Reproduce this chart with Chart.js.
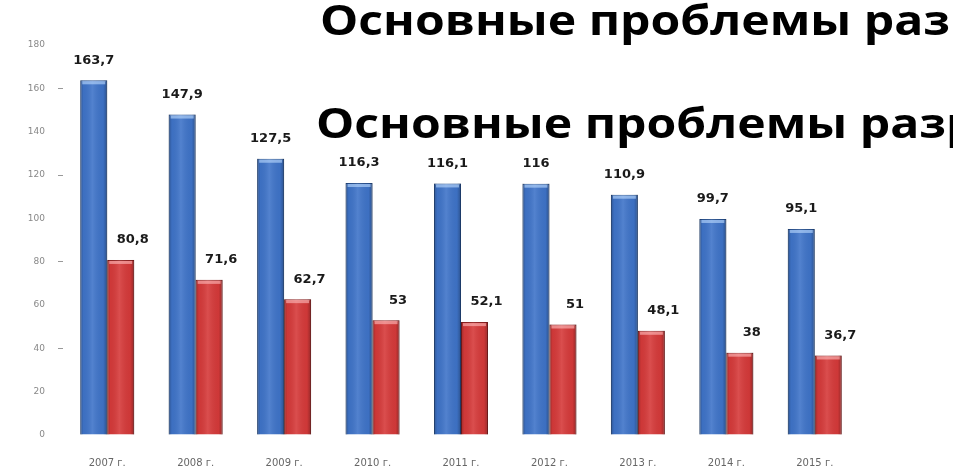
<!DOCTYPE html>
<html>
<head>
<meta charset="utf-8">
<script src="https://cdn.jsdelivr.net/npm/chart.js@4"></script>
<style>
  html, body { margin: 0; padding: 0; background: #fff; }
  #wrap { width: 953px; height: 471px; position: relative; }
</style>
</head>
<body>
<div id="wrap"><canvas id="chart" width="953" height="471"></canvas></div>
<script>
// --- data ---
const years = ['2007 г.', '2008 г.', '2009 г.', '2010 г.', '2011 г.', '2012 г.', '2013 г.', '2014 г.', '2015 г.'];
const blueValues = [163.7, 147.9, 127.5, 116.3, 116.1, 116, 110.9, 99.7, 95.1];
const redValues = [80.8, 71.6, 62.7, 53, 52.1, 51, 48.1, 38, 36.7];
const titleText = 'Основные проблемы разработки';

// comma decimals like the original
function fmt(v) {
    return String(v).replace('.', ',');
}

// paints a soft cylinder look over each bar
const barShade = {
    id: 'barShade',
    afterDatasetsDraw(chart) {
        const c = chart.ctx;
        chart.data.datasets.forEach((ds, i) => {
            const meta = chart.getDatasetMeta(i);
            meta.data.forEach(bar => {
                const left = bar.x - bar.width / 2;
                const g = c.createLinearGradient(left, 0, left + bar.width, 0);
                g.addColorStop(0, 'rgba(0,0,0,0.28)');
                g.addColorStop(0.12, 'rgba(0,0,0,0.04)');
                g.addColorStop(0.45, 'rgba(255,255,255,0.10)');
                g.addColorStop(0.85, 'rgba(0,0,0,0.04)');
                g.addColorStop(1, 'rgba(0,0,0,0.30)');
                c.save();
                c.fillStyle = g;
                c.fillRect(left, bar.y, bar.width, bar.base - bar.y);
                // light cap on top
                c.fillStyle = ds.capColor;
                c.fillRect(left + 2, bar.y + 1, bar.width - 4, 3);
                c.restore();
            });
        });
    }
};

// value labels above the bars
const valueLabels = {
    id: 'valueLabels',
    afterDatasetsDraw(chart) {
        const c = chart.ctx;
        c.save();
        c.font = 'bold 13px "DejaVu Sans", sans-serif';
        c.fillStyle = '#1a1a1a';
        c.textAlign = 'center';
        c.textBaseline = 'middle';
        chart.data.datasets.forEach((ds, i) => {
            const meta = chart.getDatasetMeta(i);
            meta.data.forEach((bar, j) => {
                c.fillText(fmt(ds.data[j]), bar.x + ds.labelShift, bar.y - 20);
            });
        });
        c.restore();
    }
};

// the big heading that runs off the right edge, twice
const heading = {
    id: 'heading',
    afterDraw(chart) {
        const c = chart.ctx;
        c.save();
        c.font = 'bold 41px "Open Sans", sans-serif';
        c.fillStyle = '#000';
        c.textBaseline = 'alphabetic';
        const part = 'Основные проблемы раз';
        const w = c.measureText(part).width;
        const sx = 630 / w;
        c.save();
        c.translate(320, 35);
        c.scale(sx, 1);
        c.fillText(titleText, 0, 0);
        c.restore();
        c.save();
        c.translate(316, 138);
        c.scale(sx, 1);
        c.fillText(titleText, 0, 0);
        c.restore();
        c.restore();
    }
};

new Chart(document.getElementById('chart'), {
    type: 'bar',
    data: {
        labels: years,
        datasets: [
            {
                data: blueValues,
                backgroundColor: '#3f74c9',
                borderColor: '#27508f',
                borderWidth: 1,
                capColor: 'rgba(190,220,255,0.6)',
                labelShift: 0
            },
            {
                data: redValues,
                backgroundColor: '#d63a3a',
                borderColor: '#8e1f1f',
                borderWidth: 1,
                capColor: 'rgba(255,190,190,0.6)',
                labelShift: 12
            }
        ]
    },
    options: {
        responsive: false,
        animation: false,
        devicePixelRatio: 1,
        categoryPercentage: 0.61,
        barPercentage: 1,
        layout: { padding: { left: 0, right: 94, top: 45, bottom: 0 } },
        plugins: {
            legend: { display: false },
            tooltip: { enabled: false }
        },
        scales: {
            x: {
                grid: { display: false, drawTicks: false },
                border: { display: false },
                ticks: {
                    color: '#666',
                    font: { size: 10, family: '"DejaVu Sans"' },
                    padding: 22,
                    maxRotation: 0
                },
                afterFit(scale) { scale.height = 36; }
            },
            y: {
                min: 0,
                max: 180,
                grid: {
                    display: true,
                    drawOnChartArea: false,
                    drawTicks: true,
                    tickLength: 5,
                    color: ctx => (ctx.tick && ctx.tick.value > 0 && ctx.tick.value % 40 === 0) ? '#999' : 'rgba(0,0,0,0)'
                },
                border: { display: false },
                ticks: {
                    stepSize: 20,
                    color: '#888',
                    font: { size: 9, family: '"DejaVu Sans"' },
                    padding: 13
                },
                afterFit(scale) { scale.width = 63; }
            }
        }
    },
    plugins: [barShade, valueLabels, heading]
});
</script>
</body>
</html>
